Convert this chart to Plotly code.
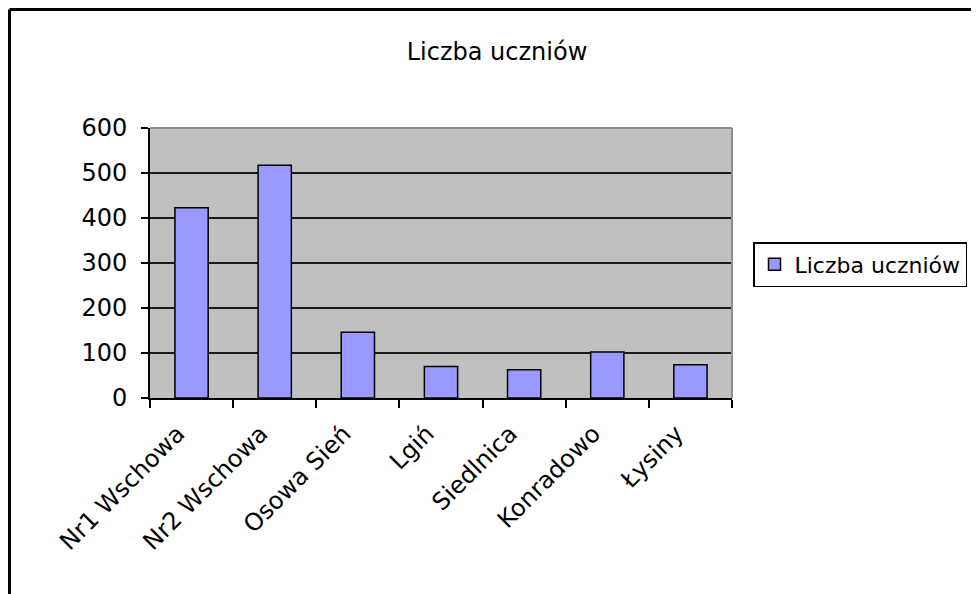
import plotly.graph_objects as go

categories = ["Nr1 Wschowa", "Nr2 Wschowa", "Osowa Sień", "Lgiń", "Siedlnica", "Konradowo", "Łysiny"]
values = [423, 517, 146, 70, 63, 102, 74]
series_name = "Liczba uczniów"
y_ticks = [0, 100, 200, 300, 400, 500, 600]

FONT = "DejaVu Sans"
FS = 24

# figure size (page body adds an 8px offset)
W, H = 971, 586
L, R, T, B = 142, 724, 120, 390  # plot area in figure pixels
PW, PH = R - L, B - T

fig = go.Figure()
fig.add_trace(go.Bar(
    x=categories, y=values, name=series_name,
    marker=dict(color="#9999FF", line=dict(color="black", width=1.5)),
    showlegend=True,
))

fig.update_layout(
    width=W, height=H,
    margin=dict(l=L, r=W - R, t=T, b=H - B, pad=0, autoexpand=False),
    paper_bgcolor="white", plot_bgcolor="#C0C0C0",
    font=dict(family=FONT, size=FS, color="black"),
    bargap=0.6,
    title=dict(text="Liczba uczniów", x=489 / W, xanchor="center",
               y=1 - 44 / H, yanchor="middle", yref="container",
               font=dict(family=FONT, size=FS, color="black")),
    legend=dict(xref="container", yref="container",
                x=745 / W, y=1 - 234 / H, xanchor="left", yanchor="top",
                bgcolor="white", bordercolor="black", borderwidth=1.5,
                font=dict(family=FONT, size=22, color="black"),
                itemwidth=30, tracegroupgap=0),
    showlegend=True,
)

fig.update_xaxes(
    type="category", tickangle=-45, tickson="boundaries",
    ticks="outside", ticklen=8, tickwidth=2, tickcolor="black",
    showline=True, linecolor="black", linewidth=2,
    showgrid=False, tickfont=dict(family=FONT, size=FS, color="black"),
    ticklabelstandoff=10, ticklabelshift=-14, automargin=False,
)
fig.update_yaxes(
    range=[0, 600], tickvals=y_ticks, ticktext=[str(v) for v in y_ticks],
    ticks="outside", ticklen=7, tickwidth=2, tickcolor="black",
    showline=True, linecolor="black", linewidth=2,
    showgrid=True, gridcolor="#1a1a1a", gridwidth=2,
    zeroline=False, ticklabelstandoff=9, automargin=False,
    tickfont=dict(family=FONT, size=FS, color="black"),
)

# plot area top/right gray edges
fig.add_shape(type="line", xref="paper", yref="paper", x0=0, x1=1, y0=1, y1=1,
              line=dict(color="#8c8c8c", width=2), layer="above")
fig.add_shape(type="line", xref="paper", yref="paper", x0=1, x1=1, y0=0, y1=1,
              line=dict(color="#8c8c8c", width=2), layer="above")

# outer chart frame (left and top edges visible)
fx = (1.5 - L) / PW
fy = (B - 1.5) / PH
fig.add_shape(type="line", xref="paper", yref="paper", x0=fx, x1=fx, y0=-1.0, y1=fy,
              line=dict(color="black", width=3), layer="above")
fig.add_shape(type="line", xref="paper", yref="paper", x0=fx, x1=1.6, y0=fy, y1=fy,
              line=dict(color="black", width=3), layer="above")

fig.write_html("out.html")
